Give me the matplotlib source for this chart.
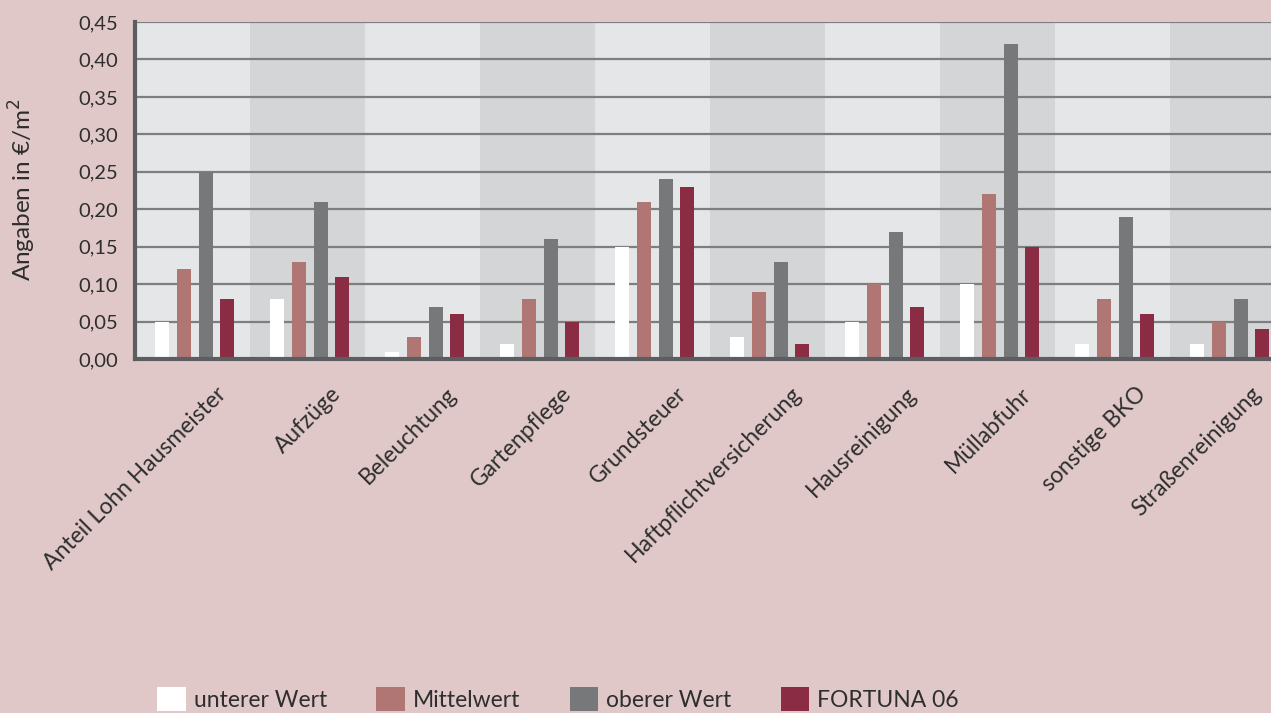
import numpy as np
import matplotlib
matplotlib.use("Agg")
import matplotlib.pyplot as plt
from matplotlib.patches import Patch
from matplotlib.ticker import FuncFormatter
import matplotlib.transforms as mtransforms

plt.rcParams['font.family'] = ['Lato', 'DejaVu Sans']

# --- data (Euro per m2) ---
categories = ["Anteil Lohn Hausmeister", "Aufzüge", "Beleuchtung", "Gartenpflege",
              "Grundsteuer", "Haftpflichtversicherung", "Hausreinigung", "Müllabfuhr",
              "sonstige BKO", "Straßenreinigung"]
unterer_wert = [0.05, 0.08, 0.01, 0.02, 0.15, 0.03, 0.05, 0.10, 0.02, 0.02]
mittelwert = [0.12, 0.13, 0.03, 0.08, 0.21, 0.09, 0.10, 0.22, 0.08, 0.05]
oberer_wert = [0.25, 0.21, 0.07, 0.16, 0.24, 0.13, 0.17, 0.42, 0.19, 0.08]
fortuna = [0.08, 0.11, 0.06, 0.05, 0.23, 0.02, 0.07, 0.15, 0.06, 0.04]
series_names = ["unterer Wert", "Mittelwert", "oberer Wert", "FORTUNA 06"]
y_ticks = [0.0, 0.05, 0.10, 0.15, 0.20, 0.25, 0.30, 0.35, 0.40, 0.45]

colors = ["#ffffff", "#b07674", "#77787a", "#8b2c45"]
bg_color = "#e0c8c8"
band_light = "#e5e6e8"
band_dark = "#d4d5d7"
text_color = "#2e2e2e"

W, H = 1271, 713
fig = plt.figure(figsize=(W / 100, H / 100), dpi=100, facecolor=bg_color)
ax = fig.add_axes([135 / W, 1 - 359 / H, (W - 135) / W, (359 - 22) / H])

n = len(categories)
x = np.arange(n)
ax.set_xlim(-0.5, -0.5 + (W - 135) / 115.0)
ax.set_ylim(0, 0.45)

# alternating background bands
for i in range(n):
    ax.axvspan(i - 0.5, i + 0.5, color=band_light if i % 2 == 0 else band_dark,
               zorder=0, lw=0)

# grid lines
for t in y_ticks[1:]:
    ax.axhline(t, color="#7d7e80", lw=1.6, zorder=1)

bar_w = 0.122
step = 0.188
shift = 0.02
all_series = [unterer_wert, mittelwert, oberer_wert, fortuna]
for k, (vals, c) in enumerate(zip(all_series, colors)):
    ax.bar(x + shift + (k - 1.5) * step, vals, width=bar_w, color=c, zorder=2, lw=0)

ax.set_facecolor(band_light)
for s in ["top", "right"]:
    ax.spines[s].set_visible(False)
for s in ["left", "bottom"]:
    ax.spines[s].set_color("#5c5d60")
    ax.spines[s].set_linewidth(3)
    ax.spines[s].set_zorder(3)

ax.set_yticks(y_ticks)
ax.yaxis.set_major_formatter(FuncFormatter(lambda v, p: f"{v:.2f}".replace(".", ",")))
ax.tick_params(axis="y", length=0, pad=12, labelsize=14.5, labelcolor=text_color)

ax.set_xticks(x)
ax.set_xticklabels(categories, rotation=45, ha="right", va="top",
                   rotation_mode="anchor", fontsize=16.5, color=text_color)
ax.tick_params(axis="x", length=0, pad=0)
offset = mtransforms.ScaledTranslation(23 / 100, -24 / 100, fig.dpi_scale_trans)
for lbl in ax.get_xticklabels():
    lbl.set_transform(lbl.get_transform() + offset)

fig.text(22 / W, 1 - 190 / H, "Angaben in €/m$^2$", rotation=90, ha="center",
         va="center", fontsize=17.5, color=text_color)

handles = [Patch(facecolor=c, edgecolor="none", label=l) for c, l in zip(colors, series_names)]
fig.legend(handles=handles, loc="upper left", bbox_to_anchor=(157 / W, 1 - 687 / H),
           ncol=4, frameon=False, fontsize=16.5, handlelength=1.25, handleheight=1.25,
           handletextpad=0.35, columnspacing=2.15, borderpad=0, borderaxespad=0,
           labelcolor=text_color)

fig.savefig("out.png", dpi=100, facecolor=bg_color)
